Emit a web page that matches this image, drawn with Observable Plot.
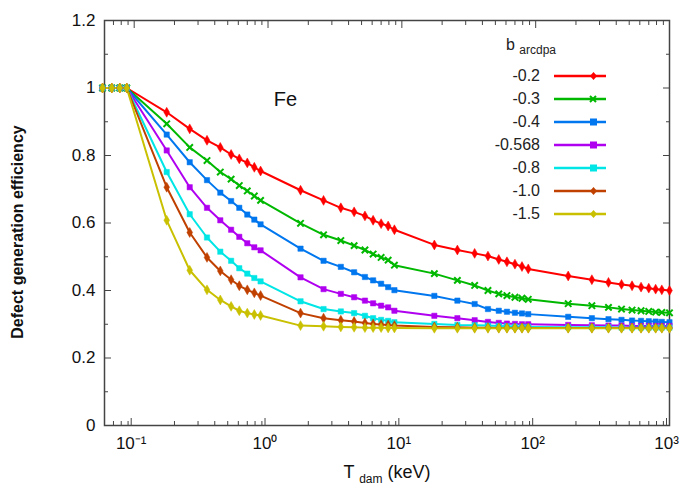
<!DOCTYPE html>
<html>
<head>
<meta charset="utf-8">
<script src="https://cdn.jsdelivr.net/npm/d3@7"></script>
<script src="https://cdn.jsdelivr.net/npm/@observablehq/plot@0.6"></script>
<style>
  body { margin: 0; background: #fff; font-family: 'Liberation Sans', Arial, sans-serif; }
  #wrap { position: relative; width: 680px; height: 496px; overflow: hidden; }
  .lab { position: absolute; color: #111; font-size: 17px; }
  #ylab { left: 18px; top: 232px; transform: translate(-50%, -50%) rotate(-90deg); white-space: nowrap; font-weight: bold; font-size: 16px; }
  #xlab { left: 387px; top: 462px; transform: translateX(-50%); white-space: nowrap; font-size: 18px; }
  #legend { position: absolute; left: 440px; top: 36px; font-size: 16px; color: #222; }
  #legend .row { display: flex; align-items: center; justify-content: flex-end; height: 23px; }
  #legend .row span { width: 100px; text-align: right; margin-right: 14px; }
  sub { font-size: 12px; }
</style>
</head>
<body>
<div id="wrap">
  <div id="graphic"></div>
  <div class="lab" id="ylab">Defect generation efficiency</div>
  <div class="lab" id="xlab">T <sub>dam</sub> (keV)</div>
  <div id="legend"><div style="margin-left:66px;height:28px">b <sub>arcdpa</sub></div></div>
</div>
<script>
const T = [0.058, 0.068, 0.078, 0.088,
  0.175, 0.26, 0.35, 0.44, 0.53, 0.61, 0.7, 0.79, 0.88,
  1.75, 2.6, 3.5, 4.4, 5.3, 6.1, 7, 7.9, 8.8,
  17.5, 26, 35, 44, 53, 61, 70, 79, 88,
  175, 263, 350, 438, 525, 613, 700, 788, 876, 1000];

const bLabels = ["-0.2", "-0.3", "-0.4", "-0.568", "-0.8", "-1.0", "-1.5"];
const colors = ["#ff0000", "#00b800", "#0077ee", "#b000f0", "#00e5e5", "#c04000", "#c8c000"];
const symbols = ["diamond", "times", "square", "square", "square", "diamond", "diamond"];

const b02 = [1,1,1,1, .928,.879,.845,.824,.803,.79,.778,.765,.754, .697,.667,.645,.633,.621,.608,.598,.591,.580, .535,.52,.51,.502,.492,.485,.478,.471,.464, .443,.432,.424,.418,.414,.41,.407,.404,.402,.400];
const b03 = [1,1,1,1, .894,.824,.785,.751,.73,.711,.695,.68,.667, .599,.565,.548,.533,.52,.508,.498,.49,.475, .45,.43,.415,.40,.39,.385,.38,.377,.374, .361,.355,.35,.345,.342,.34,.338,.336,.335,.334];
const b04 = [1,1,1,1, .862,.78,.727,.69,.665,.645,.625,.61,.596, .524,.488,.47,.454,.44,.43,.42,.41,.401, .384,.37,.36,.345,.34,.337,.334,.332,.33, .322,.318,.315,.313,.311,.31,.309,.308,.307,.306];
const b0568 = [1,1,1,1, .815,.706,.645,.608,.58,.559,.54,.528,.519, .439,.404,.39,.38,.37,.362,.355,.35,.34, .325,.318,.312,.307,.304,.302,.301,.3,.3, .298,.297,.296,.296,.295,.295,.295,.295,.295,.295];
const b08 = [1,1,1,1, .751,.626,.557,.515,.488,.466,.45,.437,.427, .368,.345,.338,.333,.325,.318,.313,.31,.306, .301,.298,.297,.296,.295,.294,.293,.292,.292, .291,.291,.291,.29,.29,.29,.29,.29,.29,.29];
const b10 = [1,1,1,1, .706,.572,.498,.458,.432,.414,.402,.393,.385, .333,.318,.312,.308,.304,.301,.299,.298,.296, .292,.291,.29,.29,.289,.289,.289,.289,.289, .289,.289,.289,.289,.289,.289,.289,.289,.289,.289];
const b15 = [1,1,1,1, .608,.46,.402,.372,.353,.34,.333,.329,.326, .296,.294,.292,.291,.29,.29,.29,.289,.289, .288,.288,.288,.288,.288,.288,.288,.288,.288, .288,.288,.288,.288,.288,.288,.288,.288,.288,.288];

const series = [b02, b03, b04, b0568, b08, b10, b15];
const yTicks = [0, 0.2, 0.4, 0.6, 0.8, 1, 1.2];
const xTicks = [0.1, 1, 10, 100, 1000];
const sup = {"-": "\u207b", "0": "\u2070", "1": "\u00b9", "2": "\u00b2", "3": "\u00b3"};

const data = series.flatMap((s, i) => s.map((v, j) => ({T: T[j], v, b: bLabels[i]})));
const minorX = [];
for (let e = -2; e < 3; e++) for (let k = 2; k < 10; k++) { const t = k * 10 ** e; if (t > 0.06 && t < 1000) minorX.push(t); }
const minorY = [0.1, 0.3, 0.5, 0.7, 0.9, 1.1];

const frame = "#444";
const plot = Plot.plot({
  width: 680, height: 496,
  marginLeft: 104, marginRight: 11, marginTop: 20, marginBottom: 71,
  style: {fontFamily: "'Liberation Sans', Arial, sans-serif", fontSize: "17px", color: "#111"},
  x: {type: "log", domain: [0.06, 1000]},
  y: {domain: [0, 1.2]},
  marks: [
    Plot.frame({stroke: frame, strokeWidth: 1.5}),
    Plot.axisY(yTicks, {tickSize: -7, tickPadding: 16, stroke: frame, label: null, tickFormat: d => String(d)}),
    Plot.axisY(minorY, {tickSize: -4, tickFormat: () => "", stroke: frame, label: null}),
    Plot.axisY(yTicks, {anchor: "right", tickSize: -7, tickFormat: () => "", stroke: frame, label: null}),
    Plot.axisY(minorY, {anchor: "right", tickSize: -4, tickFormat: () => "", stroke: frame, label: null}),
    Plot.axisX(xTicks, {tickSize: -7, tickPadding: 18, stroke: frame, label: null, dx: -3,
      tickFormat: d => "10" + String(Math.round(Math.log10(d))).split("").map(c => sup[c]).join("")}),
    Plot.axisX(minorX, {tickSize: -4, tickFormat: () => "", stroke: frame, label: null}),
    Plot.axisX(xTicks, {anchor: "top", tickSize: -7, tickFormat: () => "", stroke: frame, label: null}),
    Plot.axisX(minorX, {anchor: "top", tickSize: -4, tickFormat: () => "", stroke: frame, label: null}),
    ...series.map((s, i) => Plot.line(data.filter(d => d.b === bLabels[i]), {x: "T", y: "v", stroke: colors[i], strokeWidth: 2})),
    ...series.map((s, i) => Plot.dot(data.filter(d => d.b === bLabels[i]), {x: "T", y: "v", symbol: symbols[i], r: 3,
      fill: symbols[i] === "times" ? "none" : colors[i], stroke: colors[i], strokeWidth: symbols[i] === "times" ? 2 : 0.5})),
    Plot.text(["Fe"], {x: 1.35, y: 0.965, text: d => d, fontSize: 20, fill: "#111"})
  ]
});
document.getElementById("graphic").appendChild(plot);

const legend = document.getElementById("legend");
bLabels.forEach((b, i) => {
  const row = document.createElement("div");
  row.className = "row";
  const marker = symbols[i] === "times"
    ? `<path d="M36,0 l6,6 M42,0 l-6,6" transform="translate(0,-3)" stroke="${colors[i]}" stroke-width="2"/>`
    : symbols[i] === "square"
      ? `<rect x="36" y="-3.5" width="7" height="7" fill="${colors[i]}"/>`
      : `<path d="M39.5,-4 l3.5,4 l-3.5,4 l-3.5,-4z" fill="${colors[i]}"/>`;
  row.innerHTML = `<span>${b}</span><svg width="52" height="12" viewBox="0 -6 52 12"><line x1="0" x2="52" stroke="${colors[i]}" stroke-width="2.5"/>${marker}</svg>`;
  legend.appendChild(row);
});
</script>
</body>
</html>
